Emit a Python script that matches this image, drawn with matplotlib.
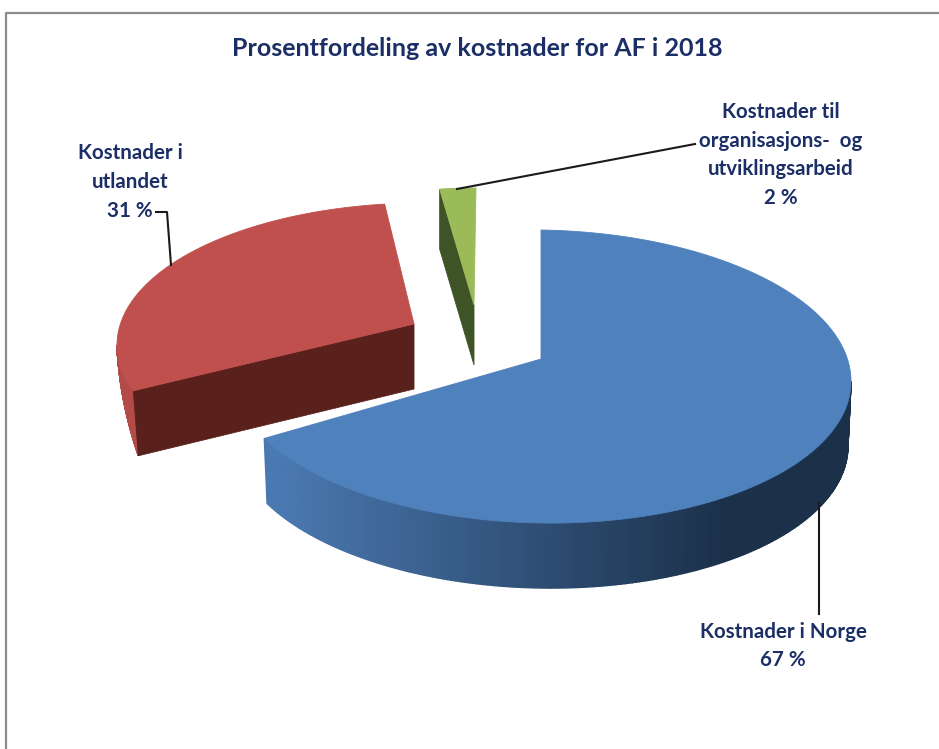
import numpy as np
import matplotlib
matplotlib.use("Agg")
import matplotlib.pyplot as plt
from matplotlib.patches import Polygon
from matplotlib.colors import to_rgb

title = "Prosentfordeling av kostnader for AF i 2018"
names = ["Kostnader i Norge", "Kostnader i\nutlandet", "Kostnader til\norganisasjons-  og\nutviklingsarbeid"]
values = [67, 31, 2]

# layout of each exploded slice in pixels
centers = [(541, 376.5), (423, 345), (476, 330)]
radii = [(310, 146.5), (306, 142), (290, 142)]
apexes = [(541, 359), (414, 324), (474, 305)]
depths = [65, 65, 60]
start_shift = [0, 10, 0]   # foreshortening of the cut edges, degrees
end_shift = [2, 0, 0]
tilts = [0.015, 0, 0]
corner_dx = [0, 5, 0]
rim_taper = [False, True, False]
top_colors = ["#4f81bd", "#c0504d", "#9bbb59"]
cut_colors = [None, "#5a201c", "#3f5426"]
side_left = ["#4a78b0", "#b34c48", "#3f5426"]
side_right = ["#1b3049", "#b34c48", "#3f5426"]
text_color = "#1b2f66"

fig = plt.figure(figsize=(9.39, 7.49), dpi=100)
ax = fig.add_axes([0, 0, 1, 1])
ax.set_xlim(0, 939)
ax.set_ylim(749, 0)
ax.axis("off")
plt.rcParams["font.family"] = ["Lato", "DejaVu Sans"]


def arc(c, r, a0, a1, tilt=0.0, n=160):
    t = np.radians(np.linspace(a0, a1, n))
    x = c[0] + r[0] * np.sin(t)
    y = c[1] - r[1] * np.cos(t) + tilt * (x - c[0])
    return np.column_stack([x, y])


# frame
ax.plot([6, 6, 939], [749, 13, 13], color="#8c8c8c", lw=1.6, zorder=0)

edges = np.concatenate([[0], np.cumsum(values)]) / sum(values) * 360
order = [1, 2, 0]
for i in order:
    a0 = edges[i] + start_shift[i]
    a1 = edges[i + 1] + end_shift[i]
    c, r, ap, d, tl = centers[i], radii[i], apexes[i], depths[i], tilts[i]
    pts = arc(c, r, a0, a1, tl)
    # outer rim (faces the viewer only for angles 90..270)
    lo, hi = max(a0, 90), min(a1, 270)
    if hi > lo:
        rim = arc(c, r, lo, hi, tl, 220)
        cl, cr = np.array(to_rgb(side_left[i])), np.array(to_rgb(side_right[i]))
        xmin, xmax = c[0] - r[0], c[0] + r[0]
        if rim_taper[i]:
            f_rim = (hi - np.linspace(lo, hi, len(rim))) / (hi - lo)
            low = rim + np.column_stack([corner_dx[i] * f_rim, d * f_rim])
        else:
            low = rim + [0, d]
            low[:, 0] = c[0] + (low[:, 0] - c[0]) * 0.99
        for k in range(len(rim) - 1):
            f = np.clip((0.5 * (rim[k, 0] + rim[k + 1, 0]) - xmin) / (xmax - xmin), 0, 1)
            f = np.clip((f - 0.08) / 0.72, 0, 1)
            col = cl * (1 - f) + cr * f
            ax.add_patch(Polygon([rim[k], rim[k + 1], low[k + 1], low[k]],
                                 closed=True, fc=col, ec=col, lw=1.0, zorder=2))
    # cut face visible on the left side of red and green
    if cut_colors[i]:
        corner = pts[0]
        ax.add_patch(Polygon([ap, corner, (corner[0] + corner_dx[i], corner[1] + d), (ap[0], ap[1] + d)],
                             closed=True, fc=cut_colors[i], ec=cut_colors[i], lw=0.6, zorder=3))
    ax.add_patch(Polygon(np.vstack([[ap], pts]), closed=True, fc=top_colors[i],
                         ec=top_colors[i], lw=0.6, zorder=4))

# leader lines
ax.plot([819, 819], [503, 614], color="#1a1a1a", lw=1.5, zorder=5)
ax.plot([156, 167, 171], [212, 212, 265], color="#1a1a1a", lw=1.5, zorder=5)
ax.plot([457, 695], [189, 144], color="#1a1a1a", lw=1.5, zorder=5)

kw = dict(ha="center", va="center", color=text_color, fontweight="bold",
          fontsize=14.8, linespacing=1.55, zorder=6)
ax.text(477, 48, title, ha="center", va="center", color=text_color,
        fontweight="bold", fontsize=18)
ax.text(783, 646, f"{names[0]}\n{values[0]} %", **kw)
ax.text(130, 182, f"{names[1]}\n{values[1]} %", **kw)
ax.text(781, 155, f"{names[2]}\n{values[2]} %", **kw)

fig.savefig("out.png", dpi=100)
